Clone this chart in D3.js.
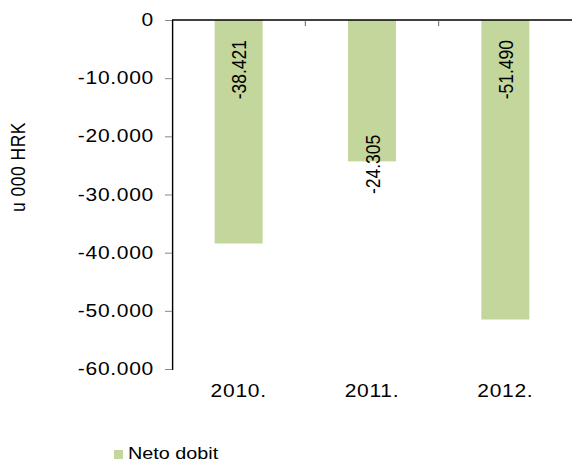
<!DOCTYPE html>
<html>
<head>
<meta charset="utf-8">
<script src="https://cdn.jsdelivr.net/npm/d3@7"></script>
<style>
  body { margin: 0; background: #fff; }
  svg { display: block; }
</style>
</head>
<body>
<div id="chart"></div>
<script>
// data
var years = ["2010.", "2011.", "2012."];
var netoDobit = [-38421, -24305, -51490];
var yTicks = [0, -10000, -20000, -30000, -40000, -50000, -60000];
var labelPlace = ["base", "end", "base"];   // where excel put the value labels

var width = 572, height = 463;
var sx = 1.2; // the original picture is stretched sideways

var hr = d3.formatLocale({decimal: ",", thousands: ".", grouping: [3], currency: ["", ""], minus: "-"});
var fmt = hr.format(",.0f");

var svg = d3.select("#chart")
    .append("svg")
    .attr("width", width)
    .attr("height", height)
    .attr("font-family", "'Liberation Sans', Arial, sans-serif");

var g = svg.append("g").attr("transform", "scale(" + sx + ",1)");

// scales (x in unstretched units)
var x = d3.scaleBand()
    .domain(years)
    .range([172 / sx, 572 / sx])
    .paddingInner(0);

var y = d3.scaleLinear()
    .domain([0, -60000])
    .range([20, 369]);

var barW = x.bandwidth() * 0.36;

// bars
g.selectAll("rect.bar")
    .data(netoDobit)
    .enter()
    .append("rect")
    .attr("class", "bar")
    .attr("x", function(d, i) { return x(years[i]) + x.bandwidth() / 2 - barW / 2; })
    .attr("y", y(0))
    .attr("width", barW)
    .attr("height", function(d) { return y(d) - y(0); })
    .attr("fill", "#c3d69b");

// y axis
var yAxis = g.append("g")
    .attr("transform", "translate(" + (172 / sx) + ",0)")
    .call(d3.axisLeft(y).tickValues(yTicks).tickFormat(fmt).tickSize(7 / sx).tickPadding(11 / sx));
yAxis.select(".domain").attr("stroke", "#000").attr("stroke-width", 1.4 / sx);
yAxis.selectAll(".tick line").attr("stroke", "#888");
yAxis.selectAll(".tick text")
    .attr("font-size", 17.5)
    .attr("letter-spacing", 0.6)
    .attr("fill", "#000")
    .attr("font-family", "'Liberation Sans', Arial, sans-serif");

// category axis line at zero (top)
g.append("line")
    .attr("x1", x.range()[0]).attr("x2", x.range()[1])
    .attr("y1", y(0)).attr("y2", y(0))
    .attr("stroke", "#000")
    .attr("stroke-width", 1.5);

// category ticks between bands
g.selectAll("line.ctick")
    .data(years.slice(1))
    .enter()
    .append("line")
    .attr("class", "ctick")
    .attr("x1", function(d) { return x(d); })
    .attr("x2", function(d) { return x(d); })
    .attr("y1", y(0))
    .attr("y2", y(0) + 6)
    .attr("stroke", "#555")
    .attr("stroke-width", 1 / sx);

// category labels at the bottom
g.selectAll("text.cat")
    .data(years)
    .enter()
    .append("text")
    .attr("class", "cat")
    .attr("x", function(d) { return x(d) + x.bandwidth() / 2; })
    .attr("y", 397)
    .attr("text-anchor", "middle")
    .attr("font-size", 17.5)
    .attr("letter-spacing", 0.6)
    .text(function(d) { return d; });

// value labels, rotated
g.selectAll("text.val")
    .data(netoDobit)
    .enter()
    .append("text")
    .attr("class", "val")
    .attr("transform", function(d, i) {
        var cx = x(years[i]) + x.bandwidth() / 2;
        var cy = labelPlace[i] == "base" ? y(0) + 20 : y(d) + 3;
        return "translate(" + cx + "," + cy + ") rotate(-90)";
    })
    .attr("text-anchor", function(d, i) { return labelPlace[i] == "base" ? "end" : "middle"; })
    .attr("dy", "0.36em")
    .attr("font-size", 17.5)
    .text(function(d) { return fmt(d); });

// y title
g.append("text")
    .attr("transform", "translate(" + (17 / sx) + ",167) rotate(-90)")
    .attr("text-anchor", "middle")
    .attr("dy", "0.36em")
    .attr("font-size", 17.5)
    .attr("letter-spacing", 0.5)
    .text("u 000 HRK");

// legend
g.append("rect")
    .attr("x", 114 / sx)
    .attr("y", 450)
    .attr("width", 9 / sx)
    .attr("height", 9)
    .attr("fill", "#c3d69b");
g.append("text")
    .attr("x", 128 / sx)
    .attr("y", 459)
    .attr("font-size", 16.5)
    .text("Neto dobit");
</script>
</body>
</html>
